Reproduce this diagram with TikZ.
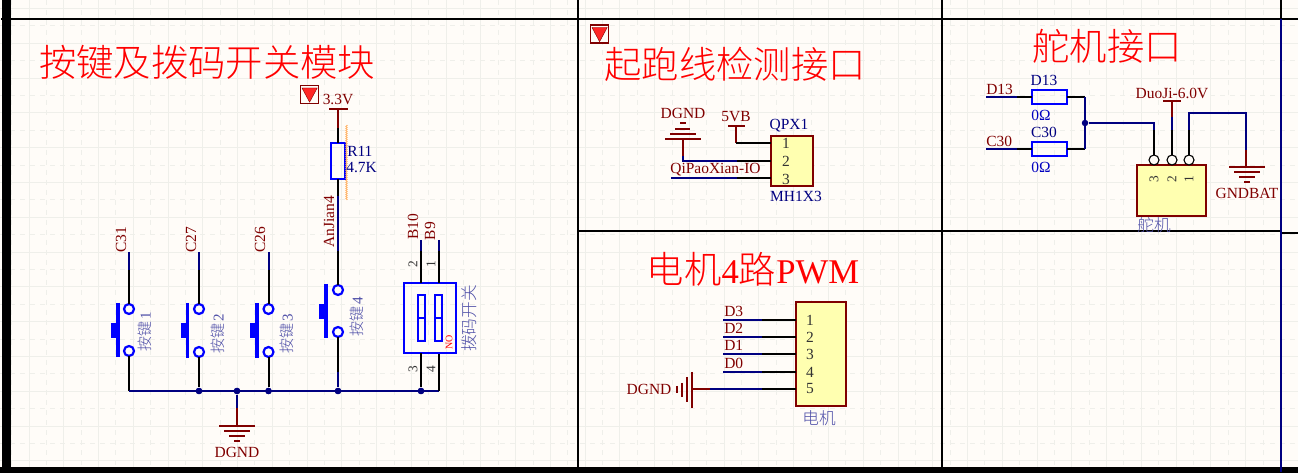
\documentclass[tikz,border=0pt]{standalone}
\usepackage{fontspec}
\setmainfont{Liberation Serif}
\newfontfamily\cjk{Noto Sans CJK SC Light}
\usetikzlibrary{decorations.pathmorphing}
\newdimen\px \px=0.75pt
\definecolor{bgc}{HTML}{FFFCF8}
\definecolor{gridc}{HTML}{EFEFEA}
\definecolor{dred}{HTML}{800000}
\definecolor{nav}{HTML}{000080}
\definecolor{blu}{HTML}{0000FF}
\definecolor{yel}{HTML}{FFFFB0}
\definecolor{lab}{HTML}{5050A8}
\tikzset{
 wn/.style={draw=nav,line width=2\px},
 wk/.style={draw=black,line width=2\px},
 wr/.style={draw=dred,line width=2\px},
 frame/.style={draw=black,line width=2\px},
 sym/.style={draw=blu,line width=3.2\px},
 pinring/.style={circle,draw=blu,line width=2.2\px,fill=bgc,minimum size=10\px,inner sep=0pt,outer sep=0pt},
 junct/.style={circle,fill=nav,minimum size=6.5\px,inner sep=0pt},
 rbox/.style={rectangle,draw=blu,line width=2.5\px,inner sep=0pt,outer sep=0pt},
 ybox/.style={rectangle,draw=dred,fill=yel,line width=1.2\px,inner sep=0pt,outer sep=0pt},
 netl/.style={text=dred,inner sep=0pt,font=\fontsize{11.6}{12}\selectfont},
 compl/.style={text=nav,inner sep=0pt,font=\fontsize{11.6}{12}\selectfont},
 pinl/.style={text=black!80,inner sep=0pt,font=\fontsize{11.6}{12}\selectfont},
 smallpin/.style={text=black!80,inner sep=0pt,font=\fontsize{10}{11}\selectfont},
 cjkl/.style={text=lab,inner sep=0pt,font=\fontsize{11.25}{12}\selectfont},
 title/.style={text=red,inner sep=0pt,font=\fontsize{28}{30}\selectfont},
}
\newcommand\pwrflag[3]{% name, x, y (top-left)
 \node[draw=dred,line width=1.2\px,fill=bgc,minimum width=18\px,minimum height=18\px,inner sep=0pt,anchor=north west] (#1) at (#2,#3) {};
 \fill[red!85!white,draw=dred,line width=.4\px] ([shift={(2,3)}]#1.north west) -- ([shift={(-2,3)}]#1.north east) -- ([shift={(0,-2)}]#1.south) -- cycle;
}
\newcommand\pushbtn[5]{% name, wire x, y upper, y lower, bar x
 \draw[sym] (#5,#3-6) -- (#5,#4+6);
 \fill[blu] (#5-7,{(#3+#4)/2-7}) rectangle (#5,{(#3+#4)/2+8});
 \node[pinring] (#1a) at (#2,#3) {};
 \node[pinring] (#1b) at (#2,#4) {};
}
\newcommand\gndv[3]{% name, x, y of top bar: bars going down
 \coordinate (#1) at (#2,#3);
 \draw[wr] (#2-18,#3) -- (#2+18,#3) (#2-13,#3+5) -- (#2+13,#3+5) (#2-8,#3+10) -- (#2+8,#3+10) (#2-3,#3+15) -- (#2+3,#3+15);
}
\begin{document}
\begin{tikzpicture}[x=0.75pt,y=-0.75pt]
\useasboundingbox (0,0) rectangle (1298,473);
\fill[bgc] (0,0) rectangle (1298,473);
% grid
\begin{scope}[line width=1\px]
\foreach \k in {0,...,36} {
 \draw[gridc] ({29+34.76*\k-34.76},0) -- ({29+34.76*\k-34.76},473);
 \draw[gridc,dash pattern=on 5\px off 5\px] ({46.4+34.76*\k-34.76},0) -- ({46.4+34.76*\k-34.76},473);
}
\foreach \k in {0,...,13} {
 \draw[gridc] (0,{8.5+34.8*\k}) -- (1298,{8.5+34.8*\k});
 \draw[gridc,dash pattern=on 5\px off 5\px] (0,{26+34.8*\k}) -- (1298,{26+34.8*\k});
}
\end{scope}
% sheet frame
\fill[black] (2,0) rectangle (11,473);
\fill[black] (0,467) rectangle (1298,473);
\draw[frame] (1,19) -- (1298,19);
\draw[frame] (578,0) -- (578,467);
\draw[frame] (941.5,0) -- (941.5,467);
\draw[frame] (578,231.5) -- (1280,231.5);
\draw[frame] (1281,232.8) -- (1298,232.8);
\draw[frame] (1281,0) -- (1281,19);
\draw[draw=nav,line width=2.5\px] (1281,19) -- (1281,472);
% titles
\node[title] (t1) at (207,62) {\cjk 按键及拨码开关模块};
\node[title] (t2) at (735,64.5) {\cjk 起跑线检测接口};
\node[title] (t3) at (753,269) {\cjk 电机\rmfamily\fontsize{26}{30}\selectfont 4\cjk\fontsize{28}{30}\selectfont 路\rmfamily\fontsize{26}{30}\selectfont PWM};
\node[title] (t4) at (1107,46.5) {\cjk 舵机接口};
\pwrflag{flagA}{300}{85}
\pwrflag{flagB}{590}{24.5}
% ---- buttons
\pushbtn{swa}{129}{309}{351}{118}
\pushbtn{swb}{199}{309}{352}{187.5}
\pushbtn{swc}{268.5}{309}{352}{257}
\pushbtn{swd}{338}{290}{332}{326}
\coordinate (c31t) at (129,252); \coordinate (c31m) at (129,270);
\coordinate (c27t) at (199,252); \coordinate (c27m) at (199,270);
\coordinate (c26t) at (268.5,252); \coordinate (c26m) at (268.5,270);
\coordinate (busL) at (129,391); \coordinate (busR) at (439,391);
\draw[wn] (c31t) -- (c31m); \draw[wk] (c31m) -- (swaa.north);
\draw[wn] (c27t) -- (c27m); \draw[wk] (c27m) -- (swba.north);
\draw[wn] (c26t) -- (c26m); \draw[wk] (c26m) -- (swca.north);
\draw[wk] (swab.south) -- (busL);
\node[junct] (j1) at (199,391) {};
\node[junct] (j2) at (237,391) {};
\node[junct] (j3) at (268.5,391) {};
\node[junct] (j4) at (338,391) {};
\node[junct] (j5) at (421,391) {};
\draw[wk] (swbb.south) -- (j1);
\draw[wk] (swcb.south) -- (j3);
\coordinate (swdm) at (338,372);
\draw[wk] (swdb.south) -- (swdm); \draw[wn] (swdm) -- (j4);
\draw[wn] (busL) -- (busR);
\draw[wk] (busR) -- ++(0,-38);
\foreach \n in {j1,j2,j3,j4,j5} \fill[nav] (\n) circle (3.2);
\node[netl,rotate=90] (lc31) at (121,239.5) {C31};
\node[netl,rotate=90] (lc27) at (191,239.5) {C27};
\node[netl,rotate=90] (lc26) at (260,239.5) {C26};
\node[cjkl,rotate=90] (lk1) at (145,332) {\cjk 按键\rmfamily\,1};
\node[cjkl,rotate=90] (lk2) at (218,334) {\cjk 按键\rmfamily\,2};
\node[cjkl,rotate=90] (lk3) at (287,334) {\cjk 按键\rmfamily\,3};
\node[cjkl,rotate=90] (lk4) at (357,317) {\cjk 按键\rmfamily\,4};
% GND bottom
\gndv{gA}{237}{426}
\coordinate (gAm) at (237,408);
\draw[wn] (j2) -- (gAm); \draw[wr] (gAm) -- (gA);
\node[netl] (lgA) at (237,452) {DGND};
% R11 and 3.3V
\coordinate (p33) at (338,109);
\draw[wr] (329,109) -- (348,109);
\node[netl] (l33) at (338,100) {3.3V};
\coordinate (p33m) at (338,128);
\draw[wr] (p33) -- (p33m);
\node[rbox,minimum width=14\px,minimum height=36\px] (R11) at (338,161) {};
\draw[wk] (p33m) -- (R11.north);
\coordinate (rm1) at (338,196); \coordinate (rm2) at (338,251);
\draw[wk] (R11.south) -- (rm1); \draw[wn] (rm1) -- (rm2); \draw[wk] (rm2) -- (swda.north);
\draw[draw=orange!65,line width=.5\px,decorate,decoration={zigzag,segment length=2\px,amplitude=.9\px}] (346.5,125) -- (346.5,200);
\node[compl,anchor=west] (lR) at (347,151) {R11};
\node[compl,anchor=west] (lRv) at (346,168) {4.7K};
\node[netl,rotate=90] (lAJ) at (329,222) {AnJian4};
% DIP switch
\node[rbox,minimum width=52\px,minimum height=70\px] (dip) at (430,318) {};
\node[rbox,line width=2\px,minimum width=7\px,minimum height=46\px] (dipa) at (421.5,318) {};
\node[rbox,line width=2\px,minimum width=7\px,minimum height=46\px] (dipb) at (438.5,318) {};
\draw[blu,line width=1.5\px] (dipa.west) -- (dipa.east) (dipb.west) -- (dipb.east);
\coordinate (b10t) at (421,240); \coordinate (b10m) at (421,251);
\coordinate (b9t) at (439,240); \coordinate (b9m) at (439,251);
\draw[wn] (b10t) -- (b10m); \draw[wk] (b10m) -- (421,283);
\draw[wn] (b9t) -- (b9m); \draw[wk] (b9m) -- (439,283);
\draw[wk] (j5) -- (421,353);
\node[netl,rotate=90] (lb10) at (413,227) {B10};
\node[netl,rotate=90] (lb9) at (430,231) {B9};
\node[smallpin,rotate=90] (d2) at (413,264) {2};
\node[smallpin,rotate=90] (d1) at (431,264) {1};
\node[smallpin,rotate=90] (d3) at (413,369) {3};
\node[smallpin,rotate=90] (d4) at (431,369) {4};
\node[rotate=90,text=red,inner sep=0pt,font=\fontsize{7.5}{8}\selectfont] (lNO) at (449,342) {NO};
\node[cjkl,rotate=90,font=\fontsize{12.5}{13}\selectfont] (ldip) at (469,318.5) {\cjk 拨码开关};
% QPX connector
\node[ybox,minimum width=42\px,minimum height=50\px] (qpx) at (792,161) {};
\node[pinl] (q1) at (786,143.5) {1};
\node[pinl] (q2) at (786,161.5) {2};
\node[pinl] (q3) at (786,179) {3};
\node[compl] (lq) at (789,126) {QPX1};
\node[compl] (lqm) at (796,196) {MH1X3};
\coordinate (qp1) at (771,143); \coordinate (qp2) at (771,161); \coordinate (qp3) at (771,178);
\coordinate (v5) at (736,126); \coordinate (v5c) at (736,143);
\draw[wr] (728,126) -- (745,126);
\draw[wr] (v5) -- (v5c); \draw[wk] (v5c) -- (qp1);
\node[netl] (l5) at (736,117) {5VB};
\draw[wr] (665,139) -- (701,139) (670,134) -- (696,134) (675,129) -- (690,129) (680,123) -- (686,123);
\coordinate (gq) at (683,139); \coordinate (gqm) at (683,156); \coordinate (gqc) at (683,161); \coordinate (gqb) at (737,161);
\draw[wr] (gq) -- (gqm); \draw[wn] (gqm) -- (gqc) -- (gqb); \draw[wk] (gqb) -- (qp2);
\node[netl] (lgq) at (683,113) {DGND};
\coordinate (qio) at (671,178); \coordinate (qiob) at (737,178);
\draw[wn] (qio) -- (qiob); \draw[wk] (qiob) -- (qp3);
\node[netl] (lqio) at (715.5,170) {QiPaoXian-IO};
% motor connector
\node[ybox,minimum width=50\px,minimum height=104\px] (mot) at (821,354) {};
\foreach \i/\yy/\nn in {1/320/D3,2/337/D2,3/354/D1,4/372/D0} {
 \coordinate (ms\i) at (723,\yy); \coordinate (mm\i) at (762,\yy); \coordinate (me\i) at (796,\yy);
 \draw[wn] (ms\i) -- (mm\i); \draw[wk] (mm\i) -- (me\i);
 \node[pinl] (mn\i) at (810,\yy) {\i};
 \node[netl,anchor=west] (ml\i) at (724,\yy-9) {\nn};
}
\node[pinl] (mn5) at (810,389) {5};
\coordinate (gm) at (692,389); \coordinate (gmm) at (710,389); \coordinate (gmb) at (762,389); \coordinate (gme) at (796,389);
\draw[wr] (692,372) -- (692,408) (687,377) -- (687,402) (682,383) -- (682,397) (677,386) -- (677,393);
\draw[wr] (gm) -- (gmm); \draw[wn] (gmm) -- (gmb); \draw[wk] (gmb) -- (gme);
\node[netl] (lgm) at (649,389) {DGND};
\node[cjkl,font=\fontsize{12.5}{13}\selectfont] (lmot) at (819,418) {\cjk 电机};
% servo
\node[rbox,minimum width=35\px,minimum height=14\px] (rd) at (1049.5,97) {};
\node[rbox,minimum width=35\px,minimum height=14\px] (rc) at (1049.5,149) {};
\coordinate (d13s) at (986,97); \coordinate (d13m) at (1017,97);
\coordinate (c30s) at (986,149); \coordinate (c30m) at (1017,149);
\draw[wn] (d13s) -- (d13m); \draw[wk] (d13m) -- (rd.west);
\draw[wn] (c30s) -- (c30m); \draw[wk] (c30m) -- (rc.west);
\coordinate (jt) at (1085,97); \coordinate (jb) at (1085,149);
\draw[wk] (rd.east) -- (jt); \draw[wk] (rc.east) -- (jb);
\draw[wn] (jt) -- (jb);
\node[junct] (j6) at (1085,123) {};
\node[ybox,minimum width=69\px,minimum height=51\px] (srv) at (1171.5,190.5) {};
\foreach \nm/\xx/\tx in {sp3/1154/3,sp2/1172/2,sp1/1189/1} {
 \node[circle,draw=black,line width=1.1\px,fill=bgc,minimum size=10\px,inner sep=0pt,outer sep=0pt] (\nm) at (\xx,160) {};
 \node[smallpin,rotate=90] (t\nm) at (\xx,179) {\tx};
}
\coordinate (a3) at (1154,123); \coordinate (a3m) at (1154,130);
\draw[wn] (j6) -- (a3) -- (a3m); \draw[wk] (a3m) -- (sp3.north);
\coordinate (a2) at (1172,101); \coordinate (a2r) at (1172,117); \coordinate (a2m) at (1172,130);
\draw[wr] (1163,101) -- (1181,101);
\draw[wr] (a2) -- (a2r); \draw[wn] (a2r) -- (a2m); \draw[wk] (a2m) -- (sp2.north);
\coordinate (a1m) at (1189,130); \coordinate (a1t) at (1189,113); \coordinate (gbt) at (1246,113); \coordinate (gbm) at (1246,150);
\gndv{gB}{1247}{167}
\draw[wk] (sp1.north) -- (a1m); \draw[wn] (a1m) -- (a1t) -- (gbt) -- (gbm);
\draw[wr] (gbm) -- (1246,167);
\node[netl] (lgB) at (1247,193) {GNDBAT};
\node[netl] (lduo) at (1172,93) {DuoJi-6.0V};
\node[netl,anchor=west] (ld13) at (986,89) {D13};
\node[netl,anchor=west] (lc30) at (986,141) {C30};
\node[compl] (lrd) at (1044,80) {D13};
\node[text=blu!75!black,inner sep=0pt,font=\fontsize{11.6}{12}\selectfont] (lrdv) at (1041,115) {0Ω};
\node[compl] (lrc) at (1044,132) {C30};
\node[text=blu!75!black,inner sep=0pt,font=\fontsize{11.6}{12}\selectfont] (lrcv) at (1041,167) {0Ω};
\node[cjkl,font=\fontsize{12.5}{13}\selectfont] (lsv) at (1154,225) {\cjk 舵机};
\end{tikzpicture}
\end{document}
